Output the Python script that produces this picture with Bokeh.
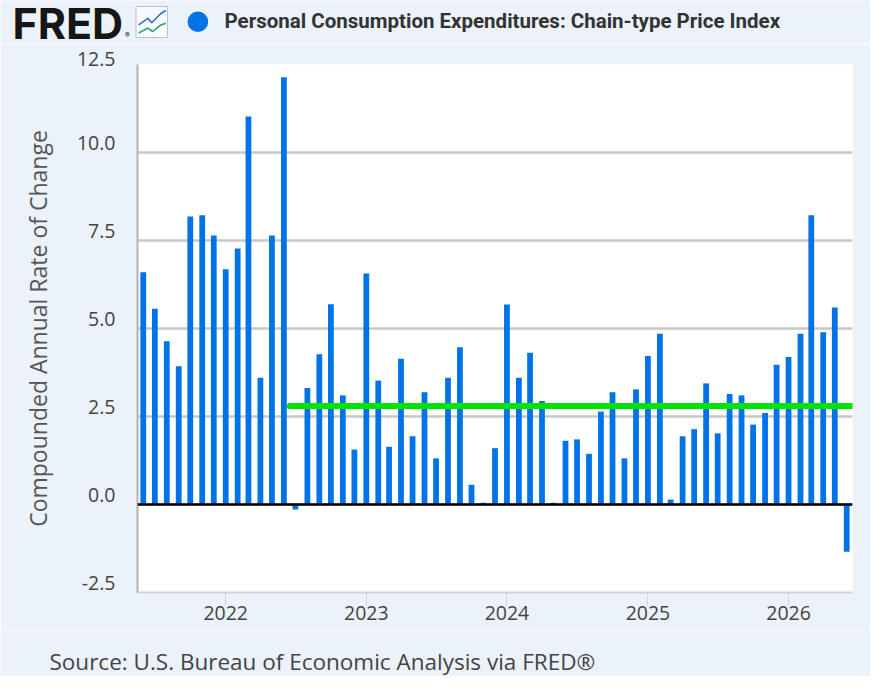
#!/usr/bin/env python3
"""
FRED-style bar chart: PCE Chain-type Price Index,
compounded annual rate of change, monthly.
"""

import pandas as pd
from bokeh.plotting import figure
from bokeh.layouts import column
from bokeh.embed import file_html
from bokeh.resources import INLINE
from bokeh.core.properties import value
from bokeh.models import (
    ColumnDataSource, Range1d, FixedTicker, DatetimeTickFormatter,
    CustomJSTickFormatter, Span
)

# Monthly observations, June 2021 - June 2026
months = pd.date_range("2021-06-01", "2026-06-01", freq="MS")
pce_rate = [
    6.60, 5.56, 4.64, 3.93, 8.18, 8.22, 7.64, 6.68, 7.27, 11.02,
    3.60, 7.64, 12.14, -0.14, 3.31, 4.27, 5.69, 3.10, 1.56, 6.56,
    3.52, 1.64, 4.14, 1.94, 3.19, 1.31, 3.60, 4.47, 0.56, 0.05,
    1.60, 5.68, 3.60, 4.31, 2.94, 0.05, 1.81, 1.85, 1.44, 2.64,
    3.19, 1.31, 3.27, 4.22, 4.85, 0.14, 1.94, 2.14, 3.44, 2.02,
    3.14, 3.10, 2.27, 2.60, 3.97, 4.19, 4.85, 8.22, 4.89, 5.60,
    -1.34,
]

# Axis ticks
y_ticks = [-2.5, 0.0, 2.5, 5.0, 7.5, 10.0, 12.5]
year_ticks = pd.to_datetime(
    ["2022-01-01", "2023-01-01", "2024-01-01", "2025-01-01", "2026-01-01"]
)
x_start = pd.Timestamp("2021-05-17")
x_end = pd.Timestamp("2026-06-16")

# Green reference line drawn across the chart
avg_rate = 2.8
avg_dates = pd.to_datetime(["2022-06-16", "2026-07-01"])

TITLE = "Personal Consumption Expenditures: Chain-type Price Index"
Y_LABEL = "Compounded Annual Rate of Change"
SOURCE = "Source: U.S. Bureau of Economic Analysis via FRED®"

BG = "#ebf2fa"
BAR_BLUE = "#0073e6"
GREEN = "#00e400"
TEXT = "#444444"
WIDTH = 870


def ms(ts):
    """Timestamp -> milliseconds since epoch (Bokeh datetime units)."""
    return ts.value / 1e6


def blank_figure(height):
    """Figure with no axes, used as a strip in pixel units (y down)."""
    f = figure(
        width=WIDTH, height=height,
        x_range=Range1d(0, WIDTH), y_range=Range1d(height, 0),
        x_axis_type=None, y_axis_type=None,
        toolbar_location=None, output_backend="svg",
        min_border=0, outline_line_color=None, frame_align=False,
        background_fill_color=BG, border_fill_color=BG,
    )
    return f


def build_header():
    h = blank_figure(44)

    # FRED wordmark
    h.text(x=[12], y=[22], text=["FRED"], text_font=value("Inter"),
           text_font_style="bold", text_font_size="43px",
           text_color="#161616", text_baseline="middle")
    h.text(x=[124.5], y=[35], text=["®"], text_font=value("Inter"),
           text_font_size="7px", text_color="#161616",
           text_baseline="middle")

    # little chart icon
    h.quad(left=[135.5], right=[167], top=[6], bottom=[37],
           fill_color="#f8fafd", line_color="#b9c2cc", line_width=1)
    h.line(x=[138.2, 147.3, 151.2, 160.4, 165.3],
           y=[24.4, 17.9, 22.2, 13, 9.8],
           line_color="#2c6fd6", line_width=1.6)
    h.line(x=[138.2, 147.3, 152.2, 160.4, 165.3],
           y=[32.5, 27.6, 31, 24.4, 22.8],
           line_color="#2a9d7c", line_width=1.6)

    # legend dot + series title
    h.scatter(x=[197.4], y=[21.2], size=20.6, fill_color=BAR_BLUE,
              line_color=None)
    h.text(x=[224], y=[20.7], text=[TITLE], text_font=value("Roboto"),
           text_font_style="bold", text_font_size="20.5px",
           text_color="#333333", text_baseline="middle")
    return h


def build_chart():
    source = ColumnDataSource(data=dict(month=months, rate=pce_rate))

    p = figure(
        width=WIDTH, height=587,
        x_axis_type="datetime",
        x_range=Range1d(ms(x_start), ms(x_end)),
        y_range=Range1d(y_ticks[0], y_ticks[-1]),
        toolbar_location=None, output_backend="svg",
        min_border_left=137, min_border_right=18,
        min_border_top=20, min_border_bottom=39,
        background_fill_color="white", border_fill_color=BG,
        outline_line_color=None, frame_align=False,
    )

    # bars, ~half a month wide
    p.vbar(x="month", top="rate", width=15 * 24 * 3600 * 1000,
           source=source, fill_color=BAR_BLUE, line_color=None)

    # green horizontal reference
    p.line(x=avg_dates, y=[avg_rate, avg_rate], line_color=GREEN,
           line_width=6, line_cap="round")

    p.add_layout(Span(location=0, dimension="width", line_color="black",
                      line_width=2.5))

    # y axis: no tick marks, grey line.  FRED prints its values a little
    # above the grid lines: an empty second line lifts each label.
    p.yaxis.ticker = FixedTicker(ticks=y_ticks)
    p.yaxis.formatter = CustomJSTickFormatter(
        code="return tick.toFixed(1) + '\\n';"
    )
    p.yaxis.major_tick_out = 0
    p.yaxis.major_tick_in = 0
    p.yaxis.minor_tick_out = 0
    p.yaxis.minor_tick_in = 0
    p.yaxis.major_label_standoff = 22
    p.yaxis.major_label_text_font = "Open Sans"
    p.yaxis.major_label_text_font_size = "19.5px"
    p.yaxis.major_label_text_line_height = 0.76
    p.yaxis.major_label_text_color = TEXT
    p.yaxis.axis_line_color = "#b3b3b3"
    p.yaxis.axis_line_width = 2
    p.yaxis.axis_label = Y_LABEL
    p.yaxis.axis_label_text_font = "Open Sans"
    p.yaxis.axis_label_text_font_style = "normal"
    p.yaxis.axis_label_text_font_size = "23px"
    p.yaxis.axis_label_text_color = "#555555"
    p.yaxis.axis_label_standoff = 20

    p.ygrid.ticker = FixedTicker(ticks=y_ticks)
    p.ygrid.grid_line_color = "#c9c9c9"
    p.ygrid.grid_line_width = 2.5
    p.xgrid.grid_line_color = None

    # x axis: one tick per January
    p.xaxis.ticker = FixedTicker(ticks=[ms(t) for t in year_ticks])
    p.xaxis.formatter = DatetimeTickFormatter(
        years="%Y", months="%Y", days="%Y"
    )
    p.xaxis.major_tick_out = 13
    p.xaxis.major_tick_in = 0
    p.xaxis.minor_tick_out = 0
    p.xaxis.minor_tick_in = 0
    p.xaxis.major_tick_line_color = "#ccd6eb"
    p.xaxis.axis_line_color = "#cfd4da"
    p.xaxis.axis_line_width = 2
    p.xaxis.major_label_standoff = 0
    p.xaxis.major_label_text_font = "Open Sans"
    p.xaxis.major_label_text_font_size = "19.5px"
    p.xaxis.major_label_text_color = TEXT

    return p


def build_footer():
    f = blank_figure(45)
    f.text(x=[49], y=[30], text=[SOURCE], text_font=value("Open Sans"),
           text_font_size="22.5px", text_color=TEXT,
           text_baseline="middle")
    return f


if __name__ == "__main__":
    layout = column(build_header(), build_chart(), build_footer())
    open("out.html", "w").write(file_html(layout, INLINE))
